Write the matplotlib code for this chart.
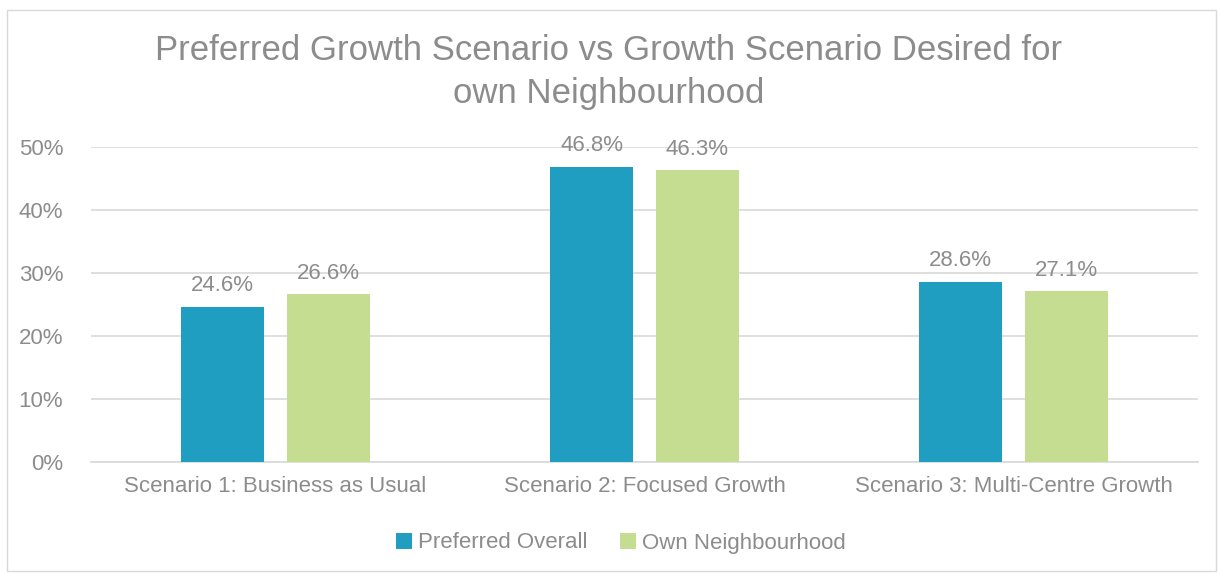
import numpy as np
import matplotlib
matplotlib.use('Agg')
import matplotlib.pyplot as plt
from matplotlib.patches import Rectangle

categories = ['Scenario 1: Business as Usual', 'Scenario 2: Focused Growth', 'Scenario 3: Multi-Centre Growth']
preferredOverall = [24.6, 46.8, 28.6]
ownNeighbourhood = [26.6, 46.3, 27.1]
yTicks = [0, 10, 20, 30, 40, 50]

txtColor = '#8c8c8c'
plt.rcParams['font.family'] = ['Liberation Sans', 'DejaVu Sans']

fig = plt.figure(figsize=(12.18, 5.73), dpi=100)
ax = fig.add_axes([0.0747, 0.1937, 0.9089, 0.5498])

# outer chart border
fig.patches.append(Rectangle((7/1218, 1-571/573), 1209/1218, 561/573, transform=fig.transFigure,
                             fill=False, edgecolor='#d9d9d9', linewidth=1))

x = np.arange(len(categories))
w = 0.225
off = 0.1436
b1 = ax.bar(x - off, preferredOverall, w, color='#1f9ec2', label='Preferred Overall', zorder=3)
b2 = ax.bar(x + off, ownNeighbourhood, w, color='#c5dd90', label='Own Neighbourhood', zorder=3)

for bars, vals in ((b1, preferredOverall), (b2, ownNeighbourhood)):
    for r, v in zip(bars, vals):
        ax.text(r.get_x() + r.get_width()/2, v + 1.7, '%.1f%%' % v, ha='center', va='bottom',
                fontsize=16, color=txtColor)

ax.set_xlim(-0.5, 2.5)
ax.set_ylim(0, 50)
ax.set_yticks(yTicks)
ax.set_yticklabels(['%d%%' % t for t in yTicks], fontsize=16, color=txtColor)
ax.set_xticks(x)
ax.set_xticklabels(categories, fontsize=16, color=txtColor)
ax.tick_params(length=0, pad=10)
ax.tick_params(axis='y', pad=20)
ax.yaxis.grid(True, color='#d9d9d9', linewidth=1.2, zorder=0)
for s in ['top', 'right', 'left']:
    ax.spines[s].set_visible(False)
ax.spines['bottom'].set_color('#d9d9d9')
ax.spines['bottom'].set_linewidth(1.2)

fig.text(0.5, 1-51/573, 'Preferred Growth Scenario vs Growth Scenario Desired for', ha='center', va='center',
         fontsize=25, color=txtColor)
fig.text(0.5, 1-94/573, 'own Neighbourhood', ha='center', va='center', fontsize=25, color=txtColor)

fig.legend(loc='center', bbox_to_anchor=(0.51, 1-543/573), ncol=2, frameon=False, fontsize=16,
           handlelength=0.7, handleheight=0.7, handletextpad=0.3, columnspacing=1.45, labelcolor=txtColor)

fig.savefig('out.png', dpi=100)
